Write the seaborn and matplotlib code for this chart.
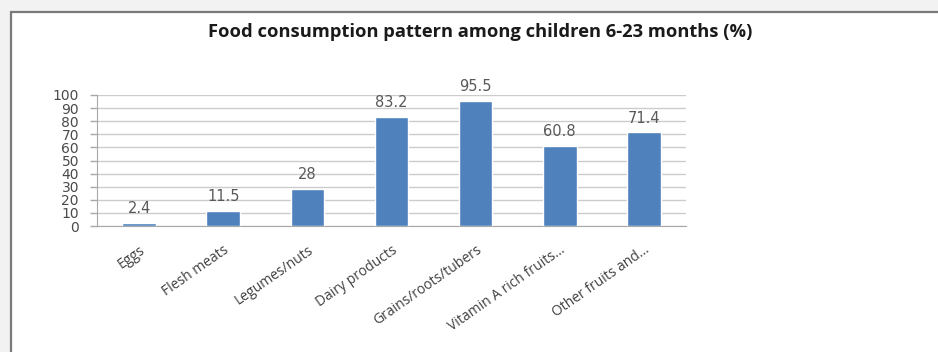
import pandas as pd
import numpy as np
import seaborn as sns
import matplotlib.pyplot as plt
from matplotlib.patches import Rectangle

categories = ["Eggs", "Flesh meats", "Legumes/nuts", "Dairy products",
              "Grains/roots/tubers", "Vitamin A rich fruits...", "Other fruits and..."]
values = [2.4, 11.5, 28, 83.2, 95.5, 60.8, 71.4]
value_labels = ["2.4", "11.5", "28", "83.2", "95.5", "60.8", "71.4"]
yticks = [0, 10, 20, 30, 40, 50, 60, 70, 80, 90, 100]

df = pd.DataFrame({"food": categories, "pct": values})

sns.set_style("white")
plt.rcParams['font.family'] = ['DejaVu Sans']

fig = plt.figure(figsize=(9.38, 3.52), dpi=100)
fig.patch.set_facecolor("#f2f2f2")

# white chart panel with border, behind the axes
panel = Rectangle((10.5 / 938, -0.05), 1.0, (352 - 12) / 352 + 0.05, transform=fig.transFigure,
                  facecolor="white", edgecolor="#7a7a7a", linewidth=1.6, zorder=-10)
fig.patches.append(panel)

ax = fig.add_axes([97 / 938, 126 / 352, 589 / 938, 131 / 352])
ax.set_facecolor("none")
ax.set_zorder(5)

sns.barplot(data=df, x="food", y="pct", color="#4f81bd", width=0.4,
            saturation=1, ax=ax, zorder=3)

ax.set_ylim(0, 100)
ax.set_xlim(-0.5, len(categories) - 0.5)
ax.set_yticks(yticks)
ax.set_yticklabels([str(t) for t in yticks], fontsize=10, color="#4a4a4a")
ax.yaxis.grid(True, color="#cccccc", linewidth=1, zorder=0)
ax.set_axisbelow(True)

ax.set_xticks(np.arange(len(categories)))
ax.set_xticklabels(categories, rotation=35, ha="right", rotation_mode="anchor",
                   fontsize=10, color="#404040", family="Open Sans")
ax.tick_params(axis="x", length=0, pad=12)
ax.set_xticks(np.arange(len(categories) + 1) - 0.5, minor=True)
ax.tick_params(axis="x", which="minor", length=4, color="#a8a8a8", width=1)
ax.tick_params(axis="y", length=5, color="#a8a8a8", width=1, pad=8, left=True)

for s in ["top", "right"]:
    ax.spines[s].set_visible(False)
ax.spines["left"].set_color("#a8a8a8")
ax.spines["bottom"].set_color("#a8a8a8")

for i, (v, lab) in enumerate(zip(values, value_labels)):
    ax.annotate(lab, (i, v), xytext=(0, 5), textcoords="offset points",
                ha="center", va="bottom", fontsize=10.5, color="#595959")

ax.set_xlabel("")
ax.set_ylabel("")

fig.text(480 / 938, 1 - 32 / 352, "Food consumption pattern among children 6-23 months (%)",
         ha="center", va="center", fontsize=13.2, fontweight="bold", color="#1a1a1a",
         family="Open Sans")

fig.savefig("out.png", dpi=100, facecolor=fig.get_facecolor())
